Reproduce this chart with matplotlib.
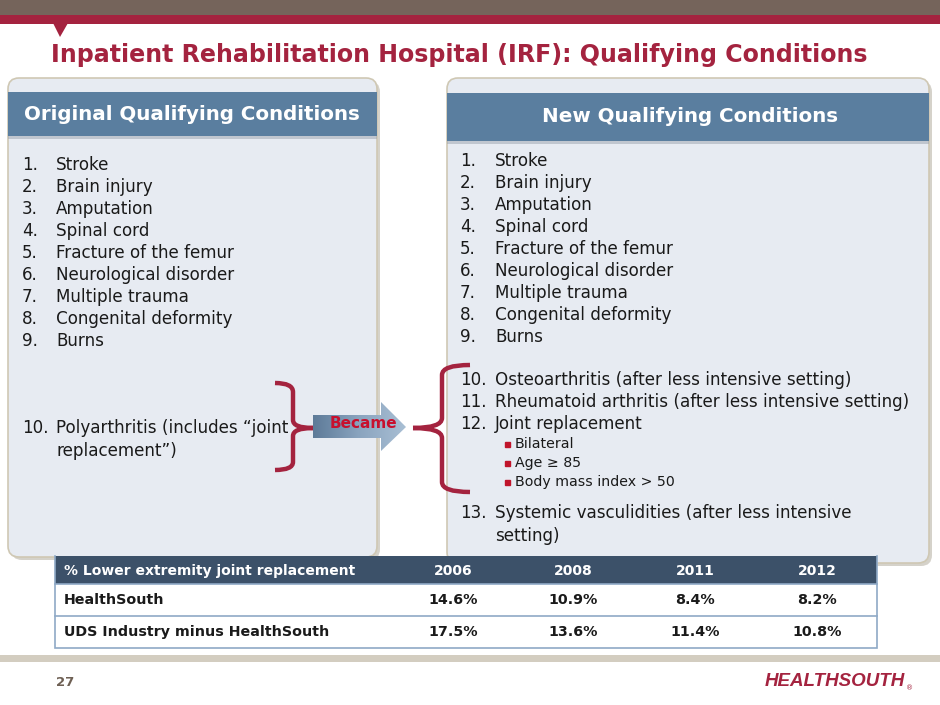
import numpy as np
import matplotlib
matplotlib.use("Agg")
import matplotlib.pyplot as plt
from matplotlib.patches import Rectangle, FancyBboxPatch, Polygon, PathPatch
from matplotlib.path import Path

# slide content
title = "Inpatient Rehabilitation Hospital (IRF): Qualifying Conditions"
left_header = "Original Qualifying Conditions"
right_header = "New Qualifying Conditions"

base_conditions = ["Stroke", "Brain injury", "Amputation", "Spinal cord",
                   "Fracture of the femur", "Neurological disorder",
                   "Multiple trauma", "Congenital deformity", "Burns"]
old_item_10 = ["Polyarthritis (includes \u201cjoint", "replacement\u201d)"]
new_items = ["Osteoarthritis (after less intensive setting)",
             "Rheumatoid arthritis (after less intensive setting)",
             "Joint replacement"]
joint_bullets = ["Bilateral", "Age \u2265 85", "Body mass index > 50"]
new_item_13 = ["Systemic vasculidities (after less intensive", "setting)"]

table_title = "% Lower extremity joint replacement"
years = ["2006", "2008", "2011", "2012"]
row_labels = ["HealthSouth", "UDS Industry minus HealthSouth"]
healthsouth_pct = [14.6, 10.9, 8.4, 8.2]
uds_pct = [17.5, 13.6, 11.4, 10.8]

CRIMSON = "#a4233f"
BROWN = "#75645b"
STEEL = "#5a7e9f"
PANEL = "#e7ebf2"
NAVY = "#3c5169"
TEXT = "#1a1a1a"

plt.rcParams['font.family'] = ['DejaVu Sans']

fig = plt.figure(figsize=(9.4, 7.05), dpi=100)
ax = fig.add_axes([0, 0, 1, 1])
ax.set_xlim(0, 940)
ax.set_ylim(705, 0)
ax.axis('off')

# top bands
ax.add_patch(Rectangle((0, 0), 940, 15, color=BROWN, lw=0))
ax.add_patch(Rectangle((0, 15), 940, 9, color=CRIMSON, lw=0))
ax.add_patch(Polygon([(53, 23), (68, 23), (60, 37)], closed=True, color=CRIMSON, lw=0))

ax.text(459, 55, title, color=CRIMSON, fontsize=17.1, fontweight='bold',
        ha='center', va='center')


def panel(x0, y0, x1, y1, hy0, hy1, header, hx):
    # shadow, body, header bar
    ax.add_patch(FancyBboxPatch((x0 + 3, y0 + 3), x1 - x0, y1 - y0,
                                boxstyle="round,pad=0,rounding_size=11",
                                fc="#b9b4a8", ec='none', alpha=0.6))
    ax.add_patch(FancyBboxPatch((x0, y0), x1 - x0, y1 - y0,
                                boxstyle="round,pad=0,rounding_size=11",
                                fc=PANEL, ec="#cfc8b4", lw=1.2))
    ax.add_patch(Rectangle((x0, hy0 + 3), x1 - x0, hy1 - hy0, fc="#9aa3ad",
                           ec='none', alpha=0.5))
    ax.add_patch(Rectangle((x0, hy0), x1 - x0, hy1 - hy0, fc=STEEL, ec='none'))
    ax.text(hx, (hy0 + hy1) / 2, header, color='white', fontsize=14.3,
            fontweight='bold', ha='center', va='center')


panel(8, 78, 377, 557, 92, 136, left_header, 192)
panel(447, 78, 929, 563, 93, 141, right_header, 690)

list_fs = 12.1

# left list
for i, item in enumerate(base_conditions):
    y = 165 + 22 * i
    ax.text(22, y, f"{i + 1}.", fontsize=list_fs, color=TEXT, va='center')
    ax.text(56, y, item, fontsize=list_fs, color=TEXT, va='center')
ax.text(22, 428, "10.", fontsize=list_fs, color=TEXT, va='center')
for j, line in enumerate(old_item_10):
    ax.text(56, 428 + 23 * j, line, fontsize=list_fs, color=TEXT, va='center')

# right list
for i, item in enumerate(base_conditions):
    y = 161 + 22 * i
    ax.text(460, y, f"{i + 1}.", fontsize=list_fs, color=TEXT, va='center')
    ax.text(495, y, item, fontsize=list_fs, color=TEXT, va='center')
for i, item in enumerate(new_items):
    y = 380 + 22 * i
    ax.text(460, y, f"{i + 10}.", fontsize=list_fs, color=TEXT, va='center')
    ax.text(495, y, item, fontsize=list_fs, color=TEXT, va='center')
for i, item in enumerate(joint_bullets):
    y = 444 + 19 * i
    ax.plot(507, y, marker='s', ms=3.6, color="#c0142b", lw=0)
    ax.text(515, y, item, fontsize=10.2, color=TEXT, va='center')
ax.text(460, 513, "13.", fontsize=list_fs, color=TEXT, va='center')
for j, line in enumerate(new_item_13):
    ax.text(495, 513 + 23 * j, line, fontsize=list_fs, color=TEXT, va='center')

# braces
codes = [Path.MOVETO, Path.CURVE3, Path.CURVE3, Path.LINETO, Path.CURVE3,
         Path.CURVE3, Path.MOVETO, Path.CURVE3, Path.CURVE3, Path.LINETO,
         Path.CURVE3, Path.CURVE3]
brace_r = Path([(275, 383), (293, 383), (293, 392), (293, 420), (293, 428),
                (313, 428), (313, 428), (293, 428), (293, 436), (293, 462),
                (293, 470), (275, 470)], codes)
ax.add_patch(PathPatch(brace_r, fc='none', ec=CRIMSON, lw=3.2, capstyle='butt'))
brace_l = Path([(470, 365), (442, 365), (442, 375), (442, 418), (442, 428),
                (413, 428), (413, 428), (442, 428), (442, 438), (442, 482),
                (442, 492), (470, 492)], codes)
ax.add_patch(PathPatch(brace_l, fc='none', ec=CRIMSON, lw=3.2, capstyle='butt'))

# "Became" arrow with gradient
arrow_pts = [(313, 415), (381, 415), (381, 402), (406, 427), (381, 451),
             (381, 438), (313, 438)]
arrow = Polygon(arrow_pts, closed=True, fc='none', ec='none')
ax.add_patch(arrow)
grad = np.linspace(0, 1, 256).reshape(1, -1)
cmap = matplotlib.colors.LinearSegmentedColormap.from_list(
    "arr", ["#5d7a98", "#8aa4bf", "#a9bfd4"])
im = ax.imshow(grad, extent=[313, 406, 451, 402], cmap=cmap, aspect='auto', zorder=2)
im.set_clip_path(arrow)
ax.text(363, 423, "Became", color="#c8102e", fontsize=11, fontweight='bold',
        ha='center', va='center', zorder=3)

# table
tx0, tx1 = 55, 877
col_x = [453, 573, 695, 817]
ax.add_patch(Rectangle((tx0, 556), tx1 - tx0, 28, fc=NAVY, ec='none', zorder=4))
ax.add_patch(Rectangle((tx0, 584), tx1 - tx0, 64, fc='white', ec="#8fa9c6", lw=1.2, zorder=4))
ax.plot([tx0, tx1], [616, 616], color="#8fa9c6", lw=1.2, zorder=5)
ax.plot([tx0, tx0], [556, 584], color="#8fa9c6", lw=1.2, zorder=5)
ax.plot([tx1, tx1], [556, 584], color="#8fa9c6", lw=1.2, zorder=5)
ax.text(64, 571, table_title, color='white', fontsize=10, fontweight='bold',
        va='center', zorder=6)
for x, yr in zip(col_x, years):
    ax.text(x, 571, yr, color='white', fontsize=10, fontweight='bold',
            ha='center', va='center', zorder=6)
for row_y, label, vals in zip([600, 632], row_labels, [healthsouth_pct, uds_pct]):
    ax.text(64, row_y, label, color=TEXT, fontsize=10.3, fontweight='bold',
            va='center', zorder=6)
    for x, v in zip(col_x, vals):
        ax.text(x, row_y, f"{v:.1f}%", color=TEXT, fontsize=10.3, fontweight='bold',
                ha='center', va='center', zorder=6)

# footer
ax.add_patch(Rectangle((0, 655), 940, 7, fc="#d3cdc0", ec='none'))
ax.text(56, 682, "27", color="#6e6054", fontsize=9.5, fontweight='bold', va='center')
ax.text(905, 682, "HEALTHSOUTH", color=CRIMSON, fontsize=13.5, fontweight='heavy',
        style='italic', family='Liberation Sans', ha='right', va='center')
ax.text(906, 688, "\u00ae", color=CRIMSON, fontsize=5, va='center')

fig.savefig("out.png", dpi=100)
